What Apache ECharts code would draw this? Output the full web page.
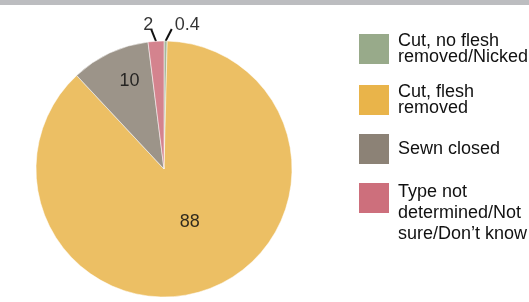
<!DOCTYPE html>
<html>
<head>
<meta charset="utf-8">
<script src="https://cdn.jsdelivr.net/npm/echarts@6/dist/echarts.min.js"></script>
<style>
  html, body { margin: 0; padding: 0; background: #fff; }
  #main { width: 529px; height: 302px; }
</style>
</head>
<body>
<div id="main"></div>
<script>
// data, clockwise from 12 o'clock
var categories = ['Cut, no flesh\nremoved/Nicked', 'Cut, flesh\nremoved', 'Sewn closed', 'Type not\ndetermined/Not\nsure/Don\u2019t know'];
var values = [0.4, 88, 10, 2];
var labelLabels = ['0.4', '88', '10', '2'];
var colors = ['#98aa8a', '#e9b44a', '#8c8276', '#cd6f7c'];
var insideLabel = [false, true, true, false];

var myChart = echarts.init(document.getElementById('main'));

// small nudges for the labels (pixels): [label dx, label dy, leader tip dx]
var nudge = { 0: [4, -4, 6], 1: [2, -10, 0], 2: [-6, -27, 0], 3: [3, -4, -4] };

var pieData = values.map(function (v, i) {
  return {
    name: categories[i],
    value: v,
    itemStyle: { color: colors[i] },
    label: {
      formatter: labelLabels[i],
      position: insideLabel[i] ? 'inside' : 'outside'
    }
  };
});

function legendLines(name) {
  return name.split('\n').map(function (l) { return '{t|' + l + '}'; }).join('\n');
}

var option = {
  animation: false,
  graphic: [{
    type: 'rect',
    shape: { x: 0, y: 0, width: 529, height: 5 },
    style: { fill: '#bcbdc0' },
    silent: true
  }],
  legend: [{
    orient: 'vertical',
    left: 354,
    top: 27,
    itemWidth: 30,
    itemHeight: 30,
    itemGap: 17,
    selectedMode: false,
    icon: 'rect',
    itemStyle: { opacity: 1, borderWidth: 0 },
    formatter: legendLines,
    textStyle: {
      fontFamily: 'Liberation Sans, Arial', fontSize: 18, color: '#111', lineHeight: 16,
      rich: { t: { fontSize: 18, lineHeight: 16, padding: [0, 0, 0, 4] } }
    },
    data: categories.slice(0, 3)
  }, {
    orient: 'vertical',
    left: 354,
    top: 146,
    itemWidth: 30,
    itemHeight: 30,
    selectedMode: false,
    icon: 'rect',
    itemStyle: { opacity: 1, borderWidth: 0 },
    formatter: function (name) {
      return '{s| }\n' + legendLines(name);
    },
    textStyle: {
      fontFamily: 'Liberation Sans, Arial', fontSize: 18, color: '#111',
      lineHeight: 21,
      rich: {
        s: { fontSize: 10, lineHeight: 31 },
        t: { fontSize: 18, lineHeight: 21, padding: [0, 0, 0, 4] }
      }
    },
    data: categories.slice(3)
  }],
  series: [{
    type: 'pie',
    center: [164, 169],
    radius: [0, 128],
    startAngle: 90,
    clockwise: true,
    avoidLabelOverlap: false,
    itemStyle: { opacity: 0.86, borderColor: '#fff', borderWidth: 0.6 },
    label: {
      fontFamily: 'Liberation Sans, Arial',
      fontSize: 18,
      color: '#111'
    },
    labelLine: {
      show: true,
      length: 12,
      length2: 0,
      lineStyle: { color: '#111', width: 2 }
    },
    labelLayout: function (params) {
      var n = nudge[params.dataIndex];
      if (!n) return {};
      var out = { dx: n[0], dy: n[1] };
      var pts = params.labelLinePoints;
      if (pts && pts.length) {
        out.labelLinePoints = pts.map(function (p, k) {
          return k === 0 ? [p[0], p[1]] : [p[0] + n[2], p[1]];
        });
      }
      return out;
    },
    emphasis: { disabled: true },
    data: pieData
  }]
};
myChart.setOption(option);
</script>
</body>
</html>
